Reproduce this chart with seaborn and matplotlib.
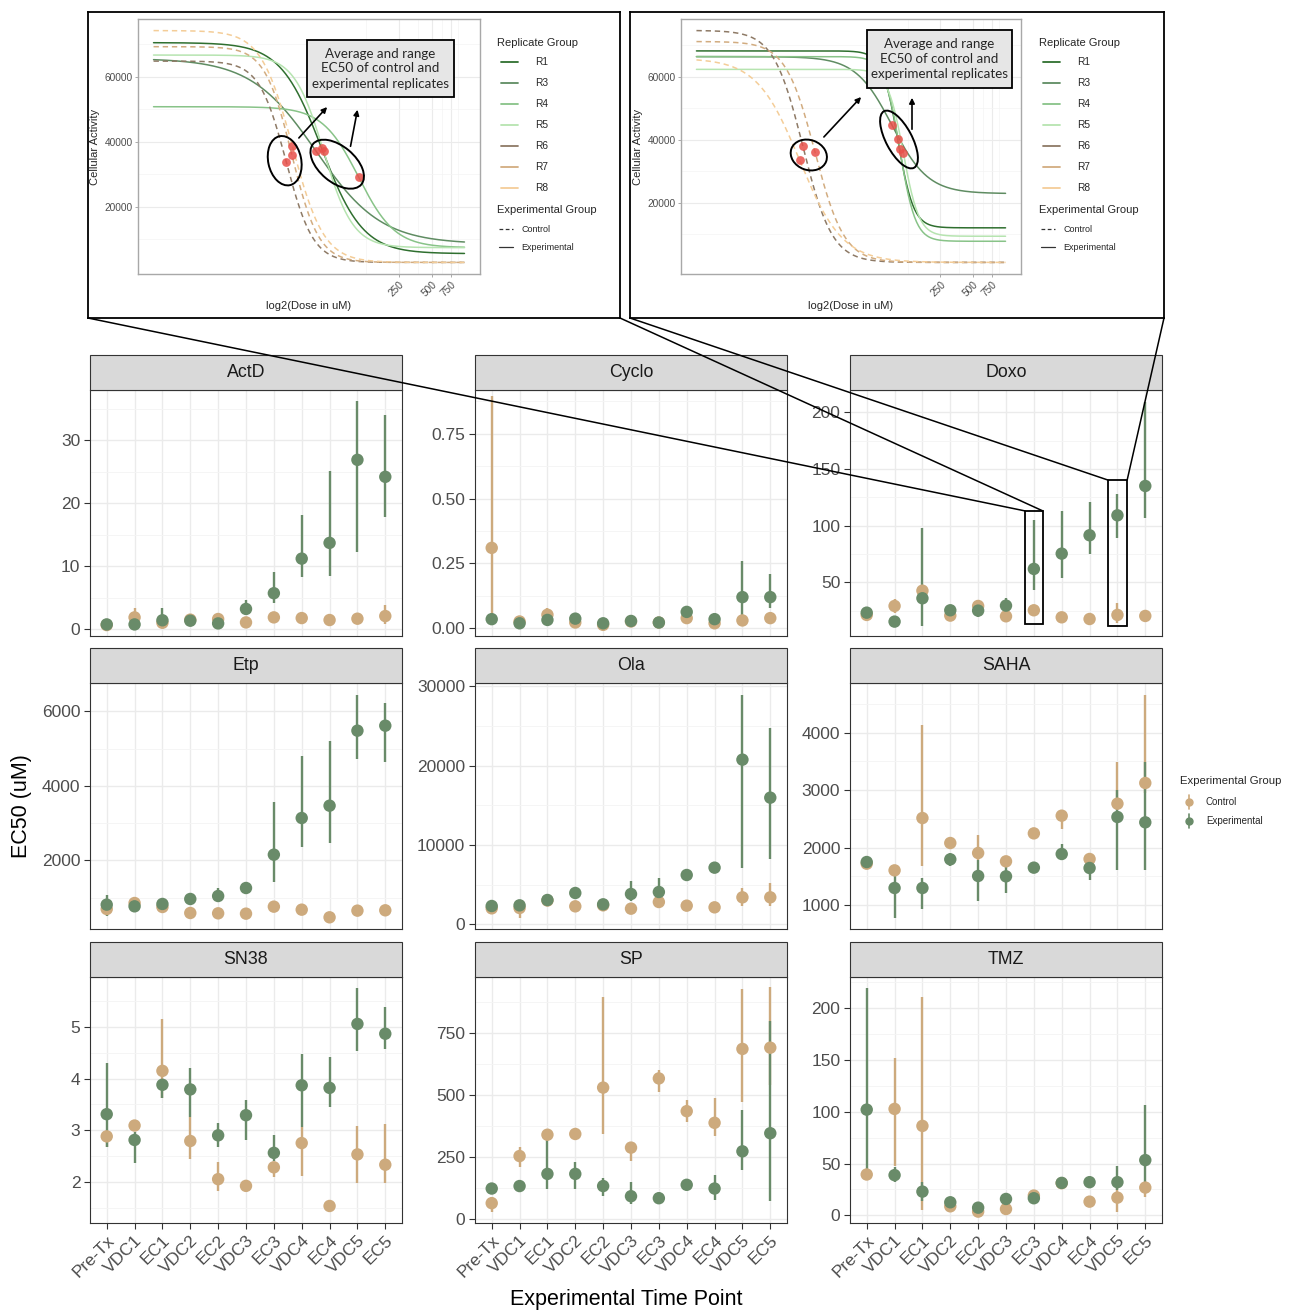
import numpy as np
import pandas as pd
import matplotlib
matplotlib.use("Agg")
import matplotlib.pyplot as plt
import seaborn as sns
from matplotlib.patches import Rectangle, Ellipse, ConnectionPatch, FancyArrowPatch
from matplotlib.lines import Line2D
from matplotlib.ticker import FixedLocator, NullFormatter

# ---------------- data ----------------
times = ["Pre-Tx", "VDC1", "EC1", "VDC2", "EC2", "VDC3", "EC3", "VDC4", "EC4", "VDC5", "EC5"]
drugs = ["ActD", "Cyclo", "Doxo", "Etp", "Ola", "SAHA", "SN38", "SP", "TMZ"]

# (low, EC50, high) for each time point
actd_ctrl = [(0.5, 0.64, 0.8), (0.9, 1.86, 3.3), (0.8, 1.0, 1.3), (1.3, 1.5, 1.7), (1.3, 1.6, 1.9),
             (0.9, 1.06, 1.2), (1.7, 1.86, 2.0), (1.6, 1.75, 1.9), (1.3, 1.44, 1.6), (1.5, 1.65, 1.8),
             (0.8, 2.07, 3.8)]
actd_exp = [(0.6, 0.74, 0.9), (0.6, 0.74, 0.9), (0.4, 1.4, 3.3), (1.2, 1.33, 1.5), (0.7, 0.9, 1.1),
            (2.5, 3.2, 4.6), (4.1, 5.7, 9.1), (8.2, 11.2, 18.1), (8.5, 13.7, 25.2), (12.2, 26.9, 36.3),
            (17.8, 24.2, 34.1)]
cyclo_ctrl = [(0.02, 0.31, 0.896), (0.02, 0.026, 0.032), (0.04, 0.052, 0.077), (0.018, 0.022, 0.026),
              (0.01, 0.013, 0.016), (0.022, 0.026, 0.03), (0.018, 0.022, 0.026), (0.034, 0.039, 0.044),
              (0.016, 0.019, 0.022), (0.026, 0.03, 0.034), (0.034, 0.039, 0.044)]
cyclo_exp = [(0.03, 0.035, 0.04), (0.015, 0.019, 0.023), (0.028, 0.032, 0.036), (0.032, 0.037, 0.042),
             (0.015, 0.019, 0.023), (0.024, 0.028, 0.032), (0.018, 0.022, 0.026), (0.055, 0.063, 0.07),
             (0.03, 0.035, 0.04), (0.045, 0.12, 0.26), (0.077, 0.12, 0.21)]
doxo_ctrl = [(17, 21.2, 28.5), (22.6, 29.1, 35), (39, 42.6, 46), (18, 20.6, 23), (25, 29.1, 33.8),
             (17.5, 20, 22.5), (22.5, 25.3, 28), (16.5, 19.1, 21.5), (15, 17.6, 20), (14.4, 21.2, 32),
             (15.5, 20.3, 24)]
doxo_exp = [(19.5, 23.2, 27), (12.5, 15.3, 18), (11.5, 35.9, 98.2), (22, 25.3, 28.5), (19.7, 25, 34.4),
            (25, 29.4, 35.9), (43.2, 61.8, 105), (53.5, 75.3, 113), (75, 91.5, 120.6), (89.4, 109.1, 127.6),
            (106.5, 135, 209.4)]
etp_ctrl = [(620, 693, 770), (800, 854, 910), (690, 747, 800), (540, 586, 630), (530, 577, 620),
            (520, 568, 615), (700, 756, 810), (620, 675, 730), (420, 470, 520), (600, 649, 700),
            (610, 658, 705)]
etp_exp = [(496, 810, 1078), (715, 765, 815), (780, 828, 875), (910, 962, 1010), (900, 1042, 1257),
           (1200, 1257, 1310), (1418, 2152, 3557), (2358, 3136, 4810), (2465, 3467, 5212),
           (4729, 5481, 6447), (4640, 5615, 6224)]
ola_ctrl = [(1800, 2017, 2200), (798, 2059, 2700), (2800, 3000, 3200), (2050, 2269, 2480),
            (2200, 2395, 2600), (1750, 1975, 2200), (2600, 2815, 3050), (2150, 2353, 2560),
            (1950, 2143, 2350), (2269, 3404, 4580), (2269, 3404, 5210)]
ola_exp = [(2100, 2311, 2520), (2200, 2395, 2600), (2850, 3067, 3280), (3700, 3950, 4200),
           (2300, 2521, 2740), (2900, 3824, 5505), (3300, 4076, 5799), (6000, 6219, 6440),
           (6900, 7143, 7380), (7059, 20758, 28952), (8278, 15968, 24750)]
saha_ctrl = [(1650, 1719, 1790), (1540, 1603, 1660), (1673, 2514, 4139), (2020, 2079, 2140),
             (1789, 1905, 2224), (1700, 1760, 1820), (2160, 2247, 2330), (2323, 2555, 2630),
             (1740, 1801, 1860), (2660, 2764, 3484), (2950, 3124, 4662)]
saha_exp = [(1670, 1748, 1830), (774, 1296, 1557), (930, 1296, 1470), (1673, 1795, 1905),
            (1064, 1505, 1789), (1209, 1499, 1673), (1570, 1650, 1730), (1789, 1888, 2068),
            (1441, 1644, 1731), (1615, 2532, 3008), (1615, 2439, 3484)]
sn38_ctrl = [(2.68, 2.88, 2.98), (3.0, 3.09, 3.18), (3.63, 4.15, 5.16), (2.44, 2.79, 3.26),
             (1.83, 2.05, 2.38), (1.84, 1.92, 2.0), (2.09, 2.28, 2.38), (2.12, 2.75, 3.06),
             (1.45, 1.53, 1.65), (1.98, 2.53, 3.08), (1.98, 2.33, 3.11)]
sn38_exp = [(2.68, 3.31, 4.30), (2.36, 2.81, 2.97), (3.63, 3.88, 4.0), (3.26, 3.79, 4.20),
            (2.68, 2.90, 3.13), (2.81, 3.29, 3.58), (2.4, 2.56, 2.90), (3.06, 3.87, 4.48),
            (3.45, 3.82, 4.42), (4.53, 5.06, 5.76), (4.58, 4.87, 5.38)]
sp_ctrl = [(28, 65, 90), (210, 255, 290), (320, 341, 360), (325, 344, 362), (345, 531, 896),
           (237, 289, 310), (514, 568, 602), (393, 436, 480), (335, 389, 491), (473, 687, 928),
           (540, 692, 935)]
sp_exp = [(105, 124, 142), (115, 134, 152), (123, 183, 330), (123, 183, 233), (93, 134, 166),
          (62, 93, 152), (70, 85, 109), (120, 139, 158), (76, 124, 177), (197, 274, 440),
          (73, 347, 800)]
tmz_ctrl = [(34, 39.4, 45), (48, 102.7, 151.5), (5.5, 86.3, 211), (6, 8.7, 11.5), (1.5, 3.6, 6),
            (3.5, 6.1, 9), (16, 19.1, 22), (28, 31, 34), (10.5, 13.2, 16), (2.9, 17.1, 27),
            (17.4, 26.8, 32)]
tmz_exp = [(45, 102, 219.4), (32, 38.8, 46.5), (14.2, 22.9, 32), (10, 12.6, 15), (5, 7.4, 9.5),
           (13, 15.8, 18.5), (14, 16.5, 19), (28.5, 31.3, 34), (29.5, 32, 34.5), (24, 32, 47.5),
           (32, 53.3, 106.3)]

ctrl_sets = [actd_ctrl, cyclo_ctrl, doxo_ctrl, etp_ctrl, ola_ctrl, saha_ctrl, sn38_ctrl, sp_ctrl, tmz_ctrl]
exp_sets = [actd_exp, cyclo_exp, doxo_exp, etp_exp, ola_exp, saha_exp, sn38_exp, sp_exp, tmz_exp]

yticks = {"ActD": [0, 10, 20, 30], "Cyclo": [0, 0.25, 0.5, 0.75], "Doxo": [50, 100, 150, 200],
          "Etp": [2000, 4000, 6000], "Ola": [0, 10000, 20000, 30000], "SAHA": [1000, 2000, 3000, 4000],
          "SN38": [2, 3, 4, 5], "SP": [0, 250, 500, 750], "TMZ": [0, 50, 100, 150, 200]}
ylims = {"ActD": (-1.1, 38.0), "Cyclo": (-0.03, 0.919), "Doxo": (2.6, 219.7), "Etp": (156, 6761),
         "Ola": (-588, 30420), "SAHA": (582, 4865), "SN38": (1.2, 5.97), "SP": (-15, 977),
         "TMZ": (-7.4, 230)}

# highlighted Doxo time points (zoomed in the insets)
rect_times = ["EC3", "VDC5"]
rect_lo = [13.2, 11.5]
rect_hi = [113, 140.3]

# dose-response fits shown in the insets: R1, R3, R4, R5 experimental; R6, R7, R8 control
reps = ["R1", "R3", "R4", "R5", "R6", "R7", "R8"]
rep_group = ["Experimental"] * 4 + ["Control"] * 3
rep_colors = ["#2F6F2F", "#5F8C62", "#88C388", "#B6E4B0", "#8E7A66", "#D2AC80", "#F4CD98"]
inset1_top = [70540, 65690, 50800, 66720, 64860, 69300, 74264]
inset1_bottom = [5540, 8530, 7390, 7390, 2842, 2842, 2842]
inset1_log2ec50 = [5.61, 5.44, 6.74, 5.67, 4.53, 4.70, 4.72]
inset1_hill = [2.3, 1.45, 2.6, 3.2, 3.5, 3.5, 3.0]
inset2_top = [68210, 66400, 66400, 62350, 74720, 71200, 65870]
inset2_bottom = [12000, 22880, 7730, 9330, 1013, 1013, 1013]
inset2_log2ec50 = [6.66, 6.48, 6.72, 6.83, 3.75, 4.12, 3.65]
inset2_hill = [6.0, 2.6, 6.0, 6.0, 3.2, 3.2, 2.2]
dose_min, dose_max = 1.4, 1000

rows = []
for drug, ctrl, exp in zip(drugs, ctrl_sets, exp_sets):
    for grp, vals in (("Control", ctrl), ("Experimental", exp)):
        for t, (lo, mid, hi) in zip(times, vals):
            rows.append(dict(drug=drug, time=t, group=grp, lo=lo, mid=mid, hi=hi))
df = pd.DataFrame(rows)
df["time"] = pd.Categorical(df["time"], categories=times)

# ---------------- figure ----------------
sns.set_theme(style="white")
plt.rcParams["font.family"] = ["Liberation Sans", "DejaVu Sans"]

W, H = 1289, 1311
fig = plt.figure(figsize=(W / 100, H / 100), dpi=100)
fig.patch.set_facecolor("white")


def frac(x0, y0, x1, y1):
    return [x0 / W, 1 - y1 / H, (x1 - x0) / W, (y1 - y0) / H]


def px(x, y):
    return (x / 100, (H - y) / 100)


pal = {"Control": "#CDAA7D", "Experimental": "#698B69"}
col_x = [90, 475, 850]
row_y = [390, 683, 977]
PW, PH, STRIP = 312, 246, 35

axes = {}
for i, drug in enumerate(drugs):
    r, c = divmod(i, 3)
    x0, y0 = col_x[c], row_y[r]
    ax = fig.add_axes(frac(x0, y0, x0 + PW, y0 + PH))
    axes[drug] = ax
    d = df[df.drug == drug]
    sns.scatterplot(data=d, x="time", y="mid", hue="group", palette=pal, s=80, linewidth=0,
                    legend=False, ax=ax, zorder=3)
    for z, g in enumerate(["Control", "Experimental"]):
        s = d[d.group == g]
        ax.vlines(s["time"].astype(str), s["lo"], s["hi"], color=pal[g], lw=1.7, zorder=2 + z * 0.5)

    ax.set_xlim(-0.6, 10.6)
    ax.set_ylim(*ylims[drug])
    tk = yticks[drug]
    ax.set_yticks(tk)
    if drug == "Cyclo":
        ax.set_yticklabels([f"{t:.2f}" for t in tk])
    else:
        ax.set_yticklabels([f"{t:g}" for t in tk])
    step = tk[1] - tk[0]
    ax.yaxis.set_minor_locator(FixedLocator([tk[0] - step / 2] + [t + step / 2 for t in tk]))
    ax.yaxis.set_minor_formatter(NullFormatter())
    ax.set_xticks(range(len(times)))
    ax.set_xlabel("")
    ax.set_ylabel("")
    ax.set_facecolor("white")
    ax.grid(True, which="major", color="#EBEBEB", lw=1.0)
    ax.grid(True, which="minor", axis="y", color="#F4F4F4", lw=0.6)
    ax.set_axisbelow(True)
    for sp in ax.spines.values():
        sp.set_color("#333333")
        sp.set_linewidth(0.8)
    ax.tick_params(axis="y", which="major", left=True, length=4, width=0.8, color="#333333",
                   labelsize=12.5, labelcolor="#4D4D4D", pad=3)
    ax.tick_params(axis="y", which="minor", length=0)
    if r < 2:
        ax.tick_params(axis="x", bottom=False, labelbottom=False)
    else:
        ax.set_xticklabels(times, rotation=45, ha="right", rotation_mode="anchor")
        ax.tick_params(axis="x", bottom=True, length=4, width=0.8, color="#333333",
                       labelsize=12.5, labelcolor="#4D4D4D", pad=3)

    sh = STRIP / PH
    ax.add_patch(Rectangle((0, 1), 1, sh, transform=ax.transAxes, clip_on=False,
                           facecolor="#D9D9D9", edgecolor="#333333", lw=0.8, zorder=4))
    ax.text(0.5, 1 + sh / 2, drug, transform=ax.transAxes, ha="center", va="center",
            fontsize=12.8, color="#1A1A1A", zorder=5)

fig.text(22 / W, 1 - 806 / H, "EC50 (uM)", rotation=90, ha="center", va="center", fontsize=15.5,
         color="black")
fig.text(626 / W, 1 - 1299 / H, "Experimental Time Point", ha="center", va="center", fontsize=15.5,
         color="black")

# main legend
fig.text(1180 / W, 1 - 781 / H, "Experimental Group", fontsize=8.2, ha="left", va="center")
for k, g in enumerate(["Control", "Experimental"]):
    y = 802 + 19 * k
    fig.add_artist(Line2D([1189 / W] * 2, [1 - (y - 7) / H, 1 - (y + 7) / H], color=pal[g], lw=1.2,
                          transform=fig.transFigure))
    fig.add_artist(Line2D([1189 / W], [1 - y / H], marker="o", ms=5, color=pal[g], ls="none",
                          transform=fig.transFigure))
    fig.text(1206 / W, 1 - y / H, g, fontsize=7, ha="left", va="center")

# Doxo highlight boxes
dax = axes["Doxo"]
half_w = [0.32, 0.35]
for t, lo, hi, hw in zip(rect_times, rect_lo, rect_hi, half_w):
    xc = times.index(t)
    dax.add_patch(Rectangle((xc - hw, lo), 2 * hw, hi - lo, fill=False, edgecolor="black", lw=1.3,
                            zorder=6, clip_on=False))


# ---------------- insets ----------------
def draw_inset(box_px, panel_px, top, bottom, log2ec50, hill, ellipses, arrows, note_px):
    bx0, by0, bx1, by1 = box_px
    frame = fig.add_axes(frac(*box_px))
    frame.set_xticks([])
    frame.set_yticks([])
    frame.set_facecolor("white")
    for sp in frame.spines.values():
        sp.set_color("black")
        sp.set_linewidth(1.3)

    ax = fig.add_axes(frac(*panel_px))
    dose = np.geomspace(dose_min, dose_max, 300)
    recs = []
    for rep, grp, tp, bt, le, h in zip(reps, rep_group, top, bottom, log2ec50, hill):
        ec = 2.0 ** le
        act = bt + (tp - bt) / (1 + (dose / ec) ** h)
        recs.append(pd.DataFrame(dict(dose=dose, activity=act, rep=rep, group=grp)))
    cdf = pd.concat(recs, ignore_index=True)
    sns.lineplot(data=cdf, x="dose", y="activity", hue="rep", style="group",
                 palette=dict(zip(reps, rep_colors)),
                 dashes={"Control": (3.5, 2.5), "Experimental": ""},
                 lw=1.1, legend=False, errorbar=None, estimator=None, ax=ax)
    pts = pd.DataFrame(dict(ec50=[2.0 ** v for v in log2ec50],
                            mid=[(a + b) / 2 for a, b in zip(top, bottom)]))
    sns.scatterplot(data=pts, x="ec50", y="mid", color="#E8504A", alpha=0.85, s=40, linewidth=0,
                    ax=ax, zorder=4)
    ax.set_xscale("log", base=2)
    ax.margins(x=0.05, y=0.05)
    ax.set_xticks([250, 500, 750])
    ax.set_xticklabels(["250", "500", "750"], rotation=45, ha="right", rotation_mode="anchor")
    ax.xaxis.set_minor_locator(FixedLocator([125, 375, 625, 875]))
    ax.xaxis.set_minor_formatter(NullFormatter())
    ax.set_yticks([20000, 40000, 60000])
    ax.set_yticklabels(["20000", "40000", "60000"])
    ax.yaxis.set_minor_locator(FixedLocator([10000, 30000, 50000, 70000]))
    ax.grid(True, which="major", color="#EBEBEB", lw=0.8)
    ax.grid(True, which="minor", color="#F4F4F4", lw=0.5)
    ax.set_axisbelow(True)
    ax.set_facecolor("white")
    for sp in ax.spines.values():
        sp.set_color("#A8A8A8")
        sp.set_linewidth(1.0)
    ax.tick_params(which="major", left=True, bottom=True, length=2, width=0.5, color="#888888",
                   labelsize=7.3, labelcolor="#4D4D4D", pad=2)
    ax.tick_params(which="minor", length=0)
    ax.set_xlabel("log2(Dose in uM)", fontsize=8, labelpad=2)
    ax.set_ylabel("Cellular Activity", fontsize=8, labelpad=3)

    # legends
    tx = bx0 + 409
    fig.text(tx / W, 1 - 43 / H, "Replicate Group", fontsize=8, ha="left", va="center")
    for k, (rep, col) in enumerate(zip(reps, rep_colors)):
        y = 62 + 21 * k
        fig.add_artist(Line2D([(bx0 + 413) / W, (bx0 + 430) / W], [1 - y / H] * 2, color=col, lw=1.3,
                              transform=fig.transFigure))
        fig.text((bx0 + 447) / W, 1 - y / H, rep, fontsize=7.3, ha="left", va="center")
    fig.text(tx / W, 1 - 210 / H, "Experimental Group", fontsize=8, ha="left", va="center")
    for k, (g, ls) in enumerate([("Control", (0, (3, 2))), ("Experimental", "-")]):
        y = 229 + 18 * k
        fig.add_artist(Line2D([(bx0 + 411) / W, (bx0 + 425) / W], [1 - y / H] * 2, color="#333333",
                              lw=0.9, ls=ls, transform=fig.transFigure))
        fig.text((bx0 + 433) / W, 1 - y / H, g, fontsize=6.5, ha="left", va="center")

    # annotations
    for cx, cy, ew, eh, ang in ellipses:
        fig.add_artist(Ellipse(px(cx, cy), ew / 100, eh / 100, angle=ang, transform=fig.dpi_scale_trans,
                               fill=False, edgecolor="black", lw=1.4, zorder=8))
    for xa, ya, xb, yb in arrows:
        fig.add_artist(FancyArrowPatch(px(xa, ya), px(xb, yb), transform=fig.dpi_scale_trans,
                                       arrowstyle="-|>", mutation_scale=8, lw=1.2, color="black",
                                       zorder=8))
    nx0, ny0, nx1, ny1 = note_px
    fig.add_artist(Rectangle(px(nx0, ny1), (nx1 - nx0) / 100, (ny1 - ny0) / 100,
                             transform=fig.dpi_scale_trans, facecolor="#E6E6E6", edgecolor="black",
                             lw=1.3, zorder=8))
    fig.text(*px((nx0 + nx1) / 2, (ny0 + ny1) / 2),
             "Average and range\nEC50 of control and\nexperimental replicates",
             transform=fig.dpi_scale_trans, ha="center", va="center", fontsize=9.6,
             family=["Lato", "DejaVu Sans"], linespacing=1.3, zorder=9)
    return frame


draw_inset((88, 12, 620, 318), (138, 19, 480, 274),
           inset1_top, inset1_bottom, inset1_log2ec50, inset1_hill,
           ellipses=[(284.7, 160.7, 50, 33, -78), (337.2, 164.2, 63, 36, -40)],
           arrows=[(297, 140, 329, 105), (350, 149, 358, 107)],
           note_px=(307, 40, 454, 97))
draw_inset((630, 12, 1164, 318), (681, 19, 1021, 274),
           inset2_top, inset2_bottom, inset2_log2ec50, inset2_hill,
           ellipses=[(808.8, 155, 37, 30, -20), (899, 139.5, 64, 26, -62)],
           arrows=[(822, 139, 863, 95), (912, 132, 912, 95)],
           note_px=(867, 30, 1012, 88))

# connectors from inset frames to the highlighted Doxo points
inset_boxes = [(88, 620), (630, 1164)]
for (lx, rx), t, hi, hw in zip(inset_boxes, rect_times, rect_hi, half_w):
    xc = times.index(t)
    for fx, dxp in ((lx, xc - hw), (rx, xc + hw)):
        cp = ConnectionPatch(xyA=px(fx, 318), coordsA=fig.dpi_scale_trans, xyB=(dxp, hi),
                             coordsB=dax.transData, color="black", lw=1.1, zorder=10)
        fig.add_artist(cp)

fig.savefig("out.png", dpi=100, facecolor="white")
